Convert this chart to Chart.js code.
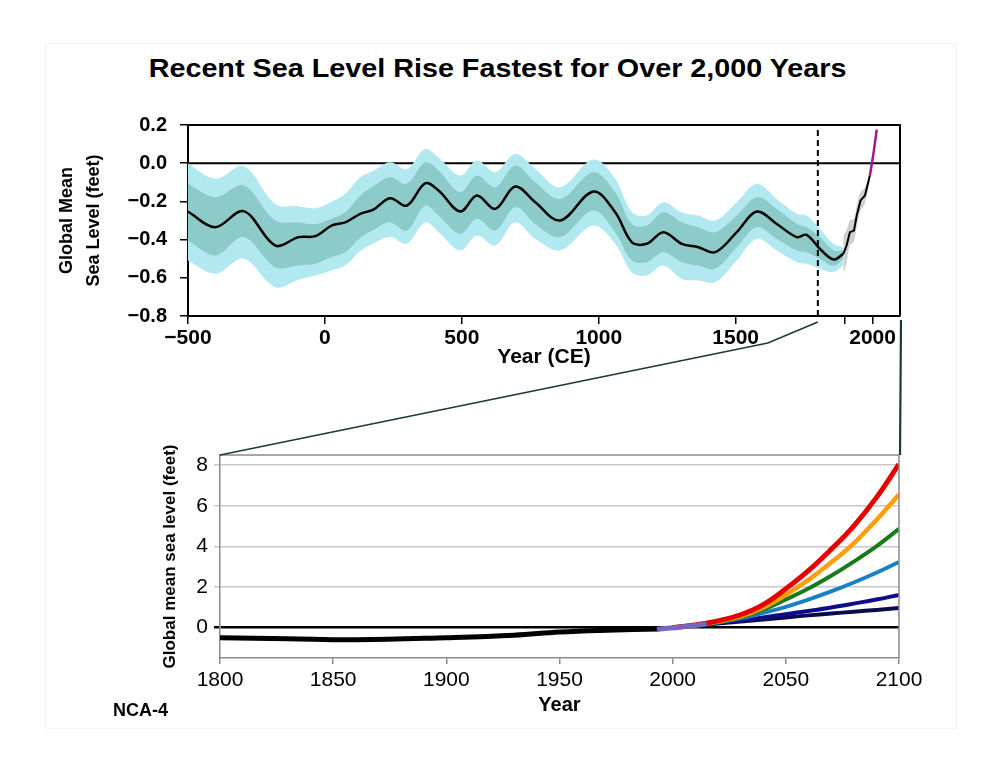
<!DOCTYPE html>
<html>
<head>
<meta charset="utf-8">
<script src="https://cdn.jsdelivr.net/npm/chart.js@4.4.1/dist/chart.umd.min.js"></script>
<style>
  html, body { margin: 0; padding: 0; background: #fff; }
  #wrap { position: relative; width: 1000px; height: 773px; overflow: hidden; font-family: "Liberation Sans", Arial, sans-serif; }
  #wrap canvas { position: absolute; left: 0; }
  #page { position: absolute; left: 45px; top: 43px; width: 910px; height: 684px; border: 1px solid #f3f3f3; }
  #title { position: absolute; left: 0; top: 55px; width: 995px; text-align: center; font-weight: bold; font-size: 25px; line-height: 26px; color: #000; transform: scaleX(1.15); transform-origin: 497px 0; }
  #credit { position: absolute; left: 113px; top: 700px; font-weight: bold; font-size: 18px; line-height: 20px; color: #000; }
</style>
</head>
<body>
<div id="wrap">
  <div id="page"></div>
  <div id="title">Recent Sea Level Rise Fastest for Over 2,000 Years</div>
  <canvas id="pastChart" width="1000" height="380" style="top:0"></canvas>
  <canvas id="futureChart" width="1000" height="393" style="top:380px"></canvas>
  <canvas id="links" width="1000" height="773" style="top:0;pointer-events:none"></canvas>
  <div id="credit">NCA-4</div>
</div>
<script>
/* ---------- top panel: reconstruction, -500 CE to present (feet) ---------- */
const proxyYears = [-500, -400, -297, -181, -96, -35, 26, 74, 129, 177, 238, 299, 366, 415, 494, 555, 622, 695,
                    768, 859, 980, 1060, 1121, 1175, 1236, 1303, 1364, 1425, 1504, 1577, 1650, 1723, 1759, 1808, 1857, 1893];
const proxyMean  = [-0.253, -0.335, -0.251, -0.431, -0.387, -0.382, -0.326, -0.31, -0.265, -0.243, -0.183, -0.222, -0.105, -0.143, -0.253, -0.169, -0.239, -0.122,
                    -0.204, -0.30, -0.148, -0.257, -0.414, -0.422, -0.361, -0.422, -0.44, -0.466, -0.361, -0.253, -0.318, -0.387, -0.375, -0.449, -0.504, -0.475];
const outerHi    = [0.0, -0.082, -0.016, -0.213, -0.225, -0.236, -0.2, -0.16, -0.075, -0.04, 0.005, -0.03, 0.075, 0.03, -0.065, 0.014, -0.047, 0.049,
                    -0.03, -0.126, 0.019, -0.082, -0.257, -0.274, -0.204, -0.257, -0.274, -0.30, -0.204, -0.108, -0.187, -0.265, -0.274, -0.344, -0.422, -0.44];
const innerHi    = [-0.108, -0.178, -0.117, -0.30, -0.31, -0.319, -0.29, -0.257, -0.17, -0.12, -0.073, -0.108, 0.005, -0.038, -0.152, -0.065, -0.126, -0.012,
                    -0.1, -0.187, -0.047, -0.152, -0.318, -0.326, -0.257, -0.309, -0.335, -0.361, -0.274, -0.178, -0.239, -0.318, -0.335, -0.387, -0.457, -0.457];
const innerLo    = [-0.405, -0.483, -0.387, -0.545, -0.535, -0.527, -0.49, -0.466, -0.39, -0.35, -0.309, -0.353, -0.222, -0.274, -0.37, -0.291, -0.353, -0.23,
                    -0.318, -0.387, -0.248, -0.361, -0.51, -0.518, -0.466, -0.518, -0.536, -0.553, -0.44, -0.335, -0.396, -0.457, -0.466, -0.501, -0.536, -0.501];
const outerLo    = [-0.51, -0.579, -0.50, -0.649, -0.61, -0.588, -0.56, -0.536, -0.46, -0.42, -0.387, -0.422, -0.309, -0.361, -0.457, -0.379, -0.431, -0.309,
                    -0.396, -0.457, -0.326, -0.422, -0.571, -0.588, -0.536, -0.606, -0.614, -0.623, -0.51, -0.396, -0.457, -0.518, -0.527, -0.553, -0.571, -0.536];

const gaugeYears = [1893, 1905, 1917, 1932, 1942, 1956, 1972, 1990];
const gaugeLevel = [-0.475, -0.431, -0.361, -0.353, -0.274, -0.195, -0.169, -0.065];
const gaugeHi    = [-0.38, -0.35, -0.30, -0.29, -0.22, -0.15, -0.13, -0.05];
const gaugeLo    = [-0.58, -0.52, -0.43, -0.41, -0.33, -0.25, -0.21, -0.09];

const satYears = [1990, 2003, 2015];
const satLevel = [-0.065, 0.05, 0.176];

const pastXTicks = [-500, 0, 500, 1000, 1500, 1900, 2000];
const pastXLabelled = [-500, 0, 500, 1000, 1500, 2000];
const zoomYear = 1800;

/* ---------- bottom panel: 1800-2100 with scenarios (feet) ---------- */
const histYears = [1800, 1830, 1860, 1900, 1930, 1950, 1971, 1994];
const histLevel = [-0.5, -0.55, -0.6, -0.5, -0.38, -0.22, -0.13, -0.07];
const obsYears  = [1993, 2004, 2015];
const obsLevel  = [-0.08, 0.03, 0.17];

const projYears = [2000, 2010, 2020, 2030, 2040, 2050, 2060, 2070, 2080, 2090, 2100];
const extreme   = [0, 0.13, 0.33, 0.63, 1.13, 1.91, 2.8, 3.85, 5.0, 6.4, 8.05];
const high      = [0, 0.13, 0.30, 0.55, 0.98, 1.62, 2.35, 3.2, 4.15, 5.3, 6.55];
const intHigh   = [0, 0.12, 0.28, 0.50, 0.88, 1.38, 1.92, 2.55, 3.25, 4.0, 4.86];
const interm    = [0, 0.12, 0.25, 0.45, 0.72, 1.02, 1.38, 1.78, 2.22, 2.7, 3.23];
const intLow    = [0, 0.11, 0.22, 0.35, 0.50, 0.66, 0.82, 0.99, 1.18, 1.38, 1.61];
const low       = [0, 0.10, 0.20, 0.30, 0.40, 0.50, 0.60, 0.69, 0.78, 0.87, 0.96];
const futureYTicks = [0, 2, 4, 6, 8];

const FONT = "'Liberation Sans', Arial, sans-serif";
Chart.defaults.font.family = FONT;
Chart.defaults.color = "#000";

function pts(xs, ys) { return xs.map((x, i) => ({ x, y: ys[i] })); }
function minus(v) { return v < 0 ? "\u2212" + Math.abs(v) : String(v); }

/* top and right edges of the plot box */
const framePlugin = {
    id: "frame",
    afterDatasetsDraw(chart, args, opts) {
        const { ctx, chartArea: a } = chart;
        ctx.save();
        ctx.strokeStyle = opts.color;
        ctx.lineWidth = opts.width;
        ctx.beginPath();
        ctx.moveTo(a.left, a.top);
        ctx.lineTo(a.right, a.top);
        ctx.lineTo(a.right, a.bottom);
        ctx.stroke();
        ctx.restore();
    }
};

function band(data, color, order, fillTo) {
    return { data, borderWidth: 0, backgroundColor: color, fill: fillTo === undefined ? false : fillTo,
             pointRadius: 0, tension: 0.35, order };
}

const pastChart = new Chart(document.getElementById("pastChart"), {
    type: "line",
    data: {
        datasets: [
            /* 0 */ { data: [{ x: -500, y: 0 }, { x: 2100, y: 0 }], borderColor: "#000", borderWidth: 2, pointRadius: 0, order: 20 },
            /* 1 */ band(pts(proxyYears, outerHi), "#b2e8ef", 10, 2),
            /* 2 */ band(pts(proxyYears, outerLo), "#b2e8ef", 10),
            /* 3 */ band(pts(proxyYears, innerHi), "#8dcbca", 8, 4),
            /* 4 */ band(pts(proxyYears, innerLo), "#8dcbca", 8),
            /* 5 */ { data: pts(proxyYears, proxyMean), borderColor: "#000", borderWidth: 2.5, pointRadius: 0, tension: 0.35, order: 5 },
            /* 6 */ band(pts(gaugeYears, gaugeHi), "rgba(150,150,150,0.45)", 4, 7),
            /* 7 */ band(pts(gaugeYears, gaugeLo), "rgba(150,150,150,0.45)", 4),
            /* 8 */ { data: pts(gaugeYears, gaugeLevel), borderColor: "#000", borderWidth: 2, pointRadius: 0, tension: 0, order: 3 },
            /* 9 */ { data: pts(satYears, satLevel), borderColor: "#a3168f", borderWidth: 2.5, pointRadius: 0, tension: 0.3, order: 2 },
            /* 10 */ { data: [{ x: zoomYear, y: -0.8 }, { x: zoomYear, y: 0.2 }], borderColor: "#000", borderWidth: 2,
                       borderDash: [6, 4], pointRadius: 0, order: 1 }
        ]
    },
    options: {
        responsive: false, animation: false, events: [],
        layout: { padding: { left: 0, top: 125, right: 100, bottom: 0 } },
        plugins: { legend: { display: false }, tooltip: { enabled: false }, frame: { color: "#000", width: 2 } },
        scales: {
            x: {
                type: "linear", min: -500, max: 2100,
                afterBuildTicks: s => { s.ticks = pastXTicks.map(value => ({ value })); },
                afterFit: s => { s.height = 64; },
                border: { display: true, color: "#000", width: 2 },
                grid: { drawOnChartArea: false, drawTicks: true, tickLength: 8, color: "#000", lineWidth: 1.5 },
                ticks: { autoSkip: false, maxRotation: 0, padding: 2, color: "#000",
                         font: { size: 21, weight: "bold" },
                         callback: v => pastXLabelled.includes(v) ? minus(v) : "" },
                title: { display: true, text: "Year (CE)", color: "#000", font: { size: 21, weight: "bold" }, padding: { top: 0, bottom: 10 } }
            },
            y: {
                type: "linear", min: -0.8, max: 0.2,
                afterFit: s => { s.width = 188; },
                border: { display: true, color: "#000", width: 2 },
                grid: { drawOnChartArea: false, drawTicks: true, tickLength: 8, color: "#000", lineWidth: 1.5 },
                ticks: { stepSize: 0.2, padding: 13, color: "#000", font: { size: 20, weight: "bold" },
                         callback: v => (v < -0.001 ? "\u2212" : "") + Math.abs(v).toFixed(1) },
                title: { display: true, text: ["Global Mean", "Sea Level (feet)"], color: "#000",
                         font: { size: 18, weight: "bold", lineHeight: 1.5 }, padding: { top: 54, bottom: 0 } }
            }
        }
    },
    plugins: [framePlugin]
});

function proj(data, color, width, order) {
    return { data: pts(projYears, data), borderColor: color, borderWidth: width, pointRadius: 0, tension: 0.4, order };
}

const futureChart = new Chart(document.getElementById("futureChart"), {
    type: "line",
    data: {
        datasets: [
            { data: pts(histYears, histLevel), borderColor: "#000", borderWidth: 5, pointRadius: 0, tension: 0.4, order: 8 },
            proj(low, "#0b0b4d", 4, 7),
            proj(intLow, "#0d0d8c", 4, 6),
            proj(interm, "#1a80c6", 4, 5),
            proj(intHigh, "#187a18", 4, 4),
            proj(high, "#ff9d0a", 4.5, 3),
            proj(extreme, "#e60000", 5, 2),
            { data: pts(obsYears, obsLevel), borderColor: "#7465c2", borderWidth: 5, pointRadius: 0, tension: 0.3, order: 1 }
        ]
    },
    options: {
        responsive: false, animation: false, events: [],
        layout: { padding: { left: 0, top: 75, right: 101, bottom: 0 } },
        plugins: { legend: { display: false }, tooltip: { enabled: false }, frame: { color: "#8a8a8a", width: 1.5 } },
        scales: {
            x: {
                type: "linear", min: 1800, max: 2100,
                afterFit: s => { s.height = 115; },
                border: { display: true, color: "#8a8a8a", width: 1.5 },
                grid: { drawOnChartArea: false, drawTicks: true, tickLength: 6, color: "#8a8a8a", lineWidth: 1.5 },
                ticks: { stepSize: 50, autoSkip: false, maxRotation: 0, padding: 4, color: "#000", font: { size: 21 },
                         callback: v => String(v) },
                title: { display: true, text: "Year", color: "#000", font: { size: 20, weight: "bold" }, padding: { top: 0, bottom: 56 } }
            },
            y: {
                type: "linear", min: -1.5, max: 8.5,
                afterBuildTicks: s => { s.ticks = futureYTicks.map(value => ({ value })); },
                afterFit: s => { s.width = 220; },
                border: { display: true, color: "#8a8a8a", width: 1.5 },
                grid: {
                    drawOnChartArea: true, drawTicks: true, tickLength: 6,
                    color: c => c.tick && c.tick.value === 0 ? "#000" : "#c8c8c8",
                    lineWidth: c => c.tick && c.tick.value === 0 ? 2.5 : 1.5
                },
                ticks: { padding: 6, color: "#000", font: { size: 21 } },
                title: { display: true, text: "Global mean sea level (feet)", color: "#000",
                         font: { size: 17, weight: "bold" }, padding: { top: 160, bottom: 0 } }
            }
        }
    },
    plugins: [framePlugin]
});

/* zoom connectors between the panels */
(function drawLinks() {
    const ctx = document.getElementById("links").getContext("2d");
    const futureTop = 380;
    const px = pastChart.scales.x.getPixelForValue(zoomYear);
    const py = pastChart.chartArea.bottom + 6;
    const fa = futureChart.chartArea;
    ctx.strokeStyle = "#1d3a38";
    ctx.lineWidth = 1.6;
    ctx.beginPath();
    ctx.moveTo(px, py);
    ctx.lineTo(px - 50, py + 21);
    ctx.lineTo(fa.left, fa.top + futureTop);
    ctx.stroke();
    ctx.lineWidth = 2.2;
    ctx.beginPath();
    ctx.moveTo(pastChart.chartArea.right + 1, py - 2);
    ctx.lineTo(fa.right + 1, fa.top + futureTop);
    ctx.stroke();
})();
</script>
</body>
</html>
